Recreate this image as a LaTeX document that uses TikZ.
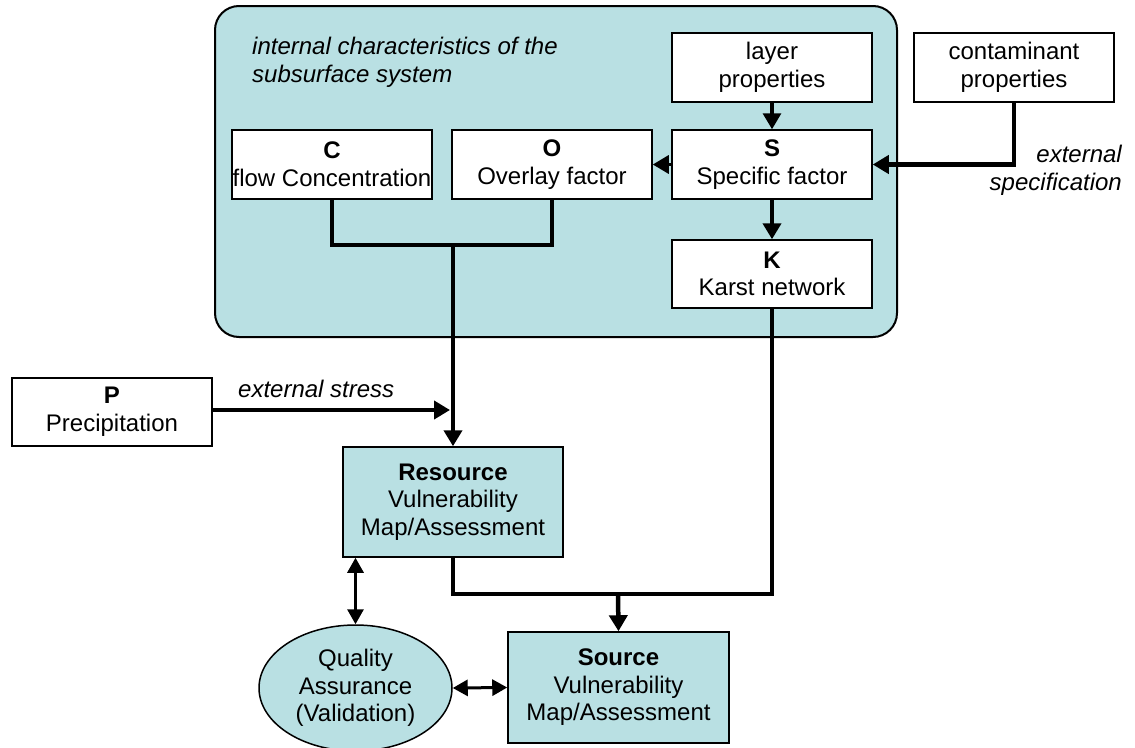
\documentclass[tikz,border=0pt]{standalone}
\usepackage{fontspec}
\setmainfont{Liberation Sans}
\usetikzlibrary{arrows.meta,shapes.geometric,calc}
\definecolor{teal0}{RGB}{185,224,227}
\begin{document}
\begin{tikzpicture}[x=1pt,y=-1pt,
  every node/.style={font=\fontsize{24}{27.6}\selectfont},
  wbox/.style={draw=black, line width=1.5pt, fill=white, minimum width=200pt, minimum height=69pt, inner sep=0pt, align=center},
  tbox/.style={wbox, fill=teal0},
  lbl/.style={font=\fontsize{24}{27.6}\selectfont\itshape, inner sep=0pt},
  bigtip/.style={-{Triangle[length=16pt,width=18pt]}},
  thk/.style={line width=4.5pt, line join=miter, draw=black},
  med/.style={line width=3.3pt, draw=black},
  thn/.style={line width=3pt, draw=black, {Triangle[length=15pt,width=16pt]}-{Triangle[length=15pt,width=16pt]}}
]
\useasboundingbox (0,0) rectangle (1135,747);

% subsurface system frame
\draw[fill=teal0, draw=black, line width=2pt, rounded corners=24pt] (215,6) rectangle (897,337);
\node[lbl, anchor=base west, align=left] (title) at (252,82) {internal characteristics of the\\subsurface system};

% boxes
\node[wbox] (layer) at (772,67.5) {layer\\properties};
\node[wbox] (cont) at (1014,67.5) {contaminant\\properties};
\node[wbox] (S) at (772,164.5) {\textbf{S}\\Specific factor};
\node[wbox] (O) at (552,164.5) {\textbf{O}\\Overlay factor};
\node[wbox] (C) at (332,164.5) {\textbf{C}\\flow Concentration};
\node[wbox, minimum height=68pt] (K) at (772,274) {\textbf{K}\\Karst network};
\node[wbox, minimum height=68pt] (P) at (112,412) {\textbf{P}\\Precipitation};
\node[tbox, minimum width=220pt, minimum height=110pt] (Res) at (453,502) {\textbf{Resource}\\Vulnerability\\Map/Assessment};
\node[tbox, minimum width=221pt, minimum height=111pt] (Src) at (618.5,687.5) {\textbf{Source}\\Vulnerability\\Map/Assessment};
\node[ellipse, draw=black, line width=1.5pt, fill=teal0, minimum width=193pt, minimum height=126pt, inner sep=0pt, align=center] (QA) at (355.5,688) {Quality\\Assurance\\(Validation)};

% labels
\node[lbl, anchor=base west] (stress) at (238,397) {external stress};
\node[lbl, anchor=base east, align=right] (spec) at (1122,190) {external\\specification};

% junction points
\coordinate (jCO) at (453,245);
\coordinate (jP) at (450,410);
\coordinate (jB) at (618,594);

% connectors
\draw[med, bigtip] (layer.south) -- (S.north);
\draw[med, bigtip] (S.west) -- (O.east);
\draw[thk, bigtip] (S.south) -- (K.north);
\draw[thk, bigtip] (cont.south) |- (S.east);
\draw[thk] (C.south) |- (O.south |- jCO) -- (O.south);
\draw[thk, bigtip] (jCO) -- (Res.north);
\draw[thk, bigtip] (P.east |- jP) -- (jP);
\draw[thk] (K.south) |- (Res.south |- jB) -- (Res.south);
\draw[thk, bigtip] (jB) -- (Src.north);
\draw[thn] (Res.south -| QA.north) -- (QA.north);
\draw[thn] (QA.east) -- (Src.west);
\end{tikzpicture}
\end{document}
